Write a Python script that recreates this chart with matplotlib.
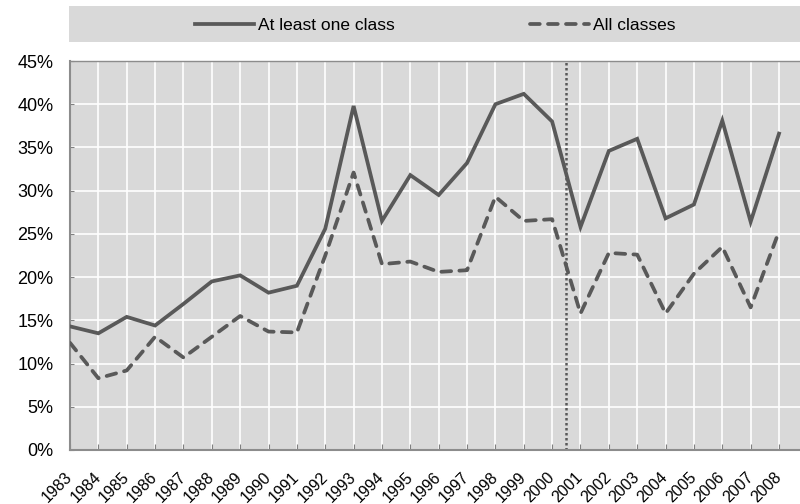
import matplotlib
matplotlib.use("Agg")
import matplotlib.pyplot as plt
from matplotlib.patches import Rectangle
from matplotlib.ticker import FuncFormatter, MultipleLocator

plt.rcParams['font.family'] = ['Liberation Sans', 'DejaVu Sans']

years = list(range(1983, 2009))
at_least_one = [14.3, 13.5, 15.4, 14.4, 16.9, 19.5, 20.2, 18.2, 19.0, 25.6,
                39.8, 26.5, 31.8, 29.5, 33.2, 40.0, 41.2, 38.0, 25.8, 34.6,
                36.0, 26.8, 28.4, 38.1, 26.4, 36.6]
all_classes = [12.4, 8.3, 9.2, 13.1, 10.7, 13.1, 15.5, 13.7, 13.6, 22.5,
               32.1, 21.5, 21.8, 20.6, 20.8, 29.3, 26.5, 26.7, 15.8, 22.8,
               22.6, 15.8, 20.4, 23.5, 16.5, 25.3]
series_labels = ["At least one class", "All classes"]
break_year = 2000.5

line_color = "#595959"
bg = "#d9d9d9"

fig = plt.figure(figsize=(8, 5.04), dpi=100)
ax = fig.add_axes([70/800, 1-450/504, 1-70/800, (450-61)/504])
ax.set_facecolor(bg)

# legend background box
fig.patches.append(Rectangle((69/800, 1-42/504), 1-69/800, 36/504,
                             transform=fig.transFigure, facecolor=bg,
                             edgecolor='none', zorder=0))

l1, = ax.plot(years, at_least_one, color=line_color, lw=2.7,
              solid_joinstyle='miter', label=series_labels[0], zorder=3)
l2, = ax.plot(years, all_classes, color=line_color, lw=2.7,
              dashes=(2.6, 2.2), dash_capstyle='round',
              label=series_labels[1], zorder=3)
ax.axvline(break_year, color=line_color, lw=1.8, linestyle=(0, (1, 1)), zorder=2)

ax.set_xlim(1983, 2008.74)
ax.set_ylim(0, 45)
ax.yaxis.set_major_locator(MultipleLocator(5))
ax.yaxis.set_major_formatter(FuncFormatter(lambda v, p: f"{v:.0f}%"))
ax.set_xticks(years)
ax.set_xticklabels([str(y) for y in years], rotation=45, ha='right',
                   va='center', rotation_mode='anchor', fontsize=11.5)
ax.tick_params(axis='x', direction='in', length=4, color='#808080', pad=18)
ax.tick_params(axis='y', direction='in', length=3, color='#808080', pad=12,
               labelsize=13)

ax.grid(True, color='white', lw=1.2, zorder=1)
ax.set_axisbelow(True)
for s in ['left', 'bottom', 'top']:
    ax.spines[s].set_color('#8c8c8c')
    ax.spines[s].set_linewidth(1.5)
ax.spines['top'].set_linewidth(1.0)
ax.spines['right'].set_visible(False)

fig.legend(handles=[l1, l2], labels=series_labels, loc='center left',
           bbox_to_anchor=(195/800, 1-25/504), ncol=2, frameon=False,
           fontsize=12.5, handlelength=3.4, handletextpad=0.22,
           columnspacing=7.8, borderaxespad=0, borderpad=0)

fig.savefig("out.png", dpi=100)
